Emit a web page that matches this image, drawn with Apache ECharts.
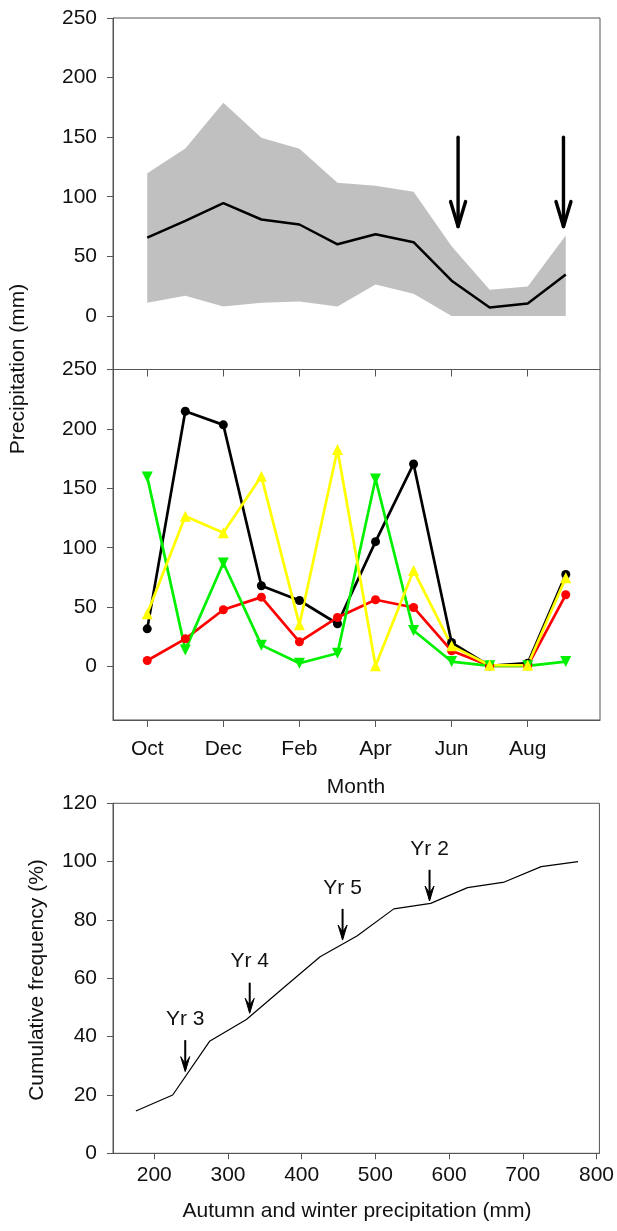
<!DOCTYPE html>
<html>
<head>
<meta charset="utf-8">
<script src="https://cdn.jsdelivr.net/npm/echarts@6/dist/echarts.min.js"></script>
<style>
html,body{margin:0;padding:0;background:#fff;}
#chart{width:617px;height:1231px;}
</style>
</head>
<body>
<div id="chart"></div>
<script>
// ---------- data ----------
const months = ['Oct','Nov','Dec','Jan','Feb','Mar','Apr','May','Jun','Jul','Aug','Sep'];
const monthTickIdx = [0, 2, 4, 6, 8, 10];
const precipTicks = [0, 50, 100, 150, 200, 250];

// top panel: long-term mean with range
const meanPrecip  = [65.7, 79.8, 94.7, 80.9, 76.7, 60.1, 68.5, 61.8, 29.5, 7.0, 10.4, 34.8];
const upperPrecip = [119.7, 140.4, 178.9, 149.4, 140.2, 111.8, 109.3, 104.2, 58.4, 21.9, 24.7, 67.4];
const lowerPrecip = [11.0, 16.9, 7.9, 11.0, 12.1, 7.9, 26.4, 18.5, 0, 0, 0, 0];
const topArrowX    = [8.17, 10.94];
const topArrowFrom = [150, 150];
const topArrowTo   = [75, 75];

// middle panel: individual years
const blackYear  = [31.7, 214.9, 203.4, 68.0, 55.6, 36.0, 105.1, 170.5, 20.2, 0.5, 2.8, 77.5];
const redYear    = [5.1, 23.3, 47.8, 58.4, 20.8, 41.3, 56.2, 49.7, 13.2, 0.6, 0.6, 60.4];
const greenYear  = [159.6, 14.0, 87.1, 18.0, 2.8, 11.2, 157.9, 30.3, 4.2, 0.6, 0.6, 4.2];
const yellowYear = [44.4, 126.4, 112.6, 160.1, 35.1, 182.6, 0.6, 80.9, 17.4, 1.1, 1.1, 74.7];

// bottom panel: cumulative frequency
const awPrecip = [175, 225, 275, 325, 375, 425, 475, 525, 575, 625, 675, 725, 775];
const cumFreq  = [14.5, 20.0, 38.4, 45.9, 56.7, 67.4, 74.5, 83.8, 85.7, 91.1, 93.0, 98.3, 100];
const awTicks  = [200, 300, 400, 500, 600, 700, 800];
const yrLabels = ['Yr 3', 'Yr 4', 'Yr 5', 'Yr 2'];
const yrX      = [242, 329.5, 455.5, 573.5];
const yrTop    = [38.8, 58.5, 83.8, 97.2];
const yrTip    = [28.0, 48.0, 73.1, 86.5];

// ---------- chart ----------
const FONT = "'Liberation Sans', Arial, sans-serif";
const AX = '#555';
const chart = echarts.init(document.getElementById('chart'), null, {renderer: 'canvas'});

function pair(arr) { return arr.map((v, i) => [i, v]); }

const baseY = {
  type: 'value', min: -45, max: 250,
  axisLine: {show: true, onZero: false, lineStyle: {color: AX, width: 1}},
  axisTick: {show: true, length: 6, inside: false, lineStyle: {color: AX}, customValues: precipTicks},
  axisLabel: {show: true, margin: 16, fontSize: 21, color: '#111', fontFamily: FONT, customValues: precipTicks},
  splitLine: {show: false}
};
const baseX = {
  type: 'value', min: -0.9, max: 11.9,
  axisLine: {show: true, onZero: false, lineStyle: {color: AX, width: 1}},
  axisTick: {show: true, length: 7, lineStyle: {color: AX}, customValues: monthTickIdx},
  splitLine: {show: false}
};

const option = {
  backgroundColor: '#fff',
  animation: false,
  textStyle: {fontFamily: FONT},
  grid: [
    {left: 113, right: 17, top: 18, bottom: 861.5, show: true, borderColor: AX, borderWidth: 1},
    {left: 113, right: 17, top: 369.5, bottom: 511, show: true, borderColor: AX, borderWidth: 1},
    {left: 113, right: 15.5, top: 803.3, bottom: 77.7, show: true, borderColor: AX, borderWidth: 1}
  ],
  xAxis: [
    Object.assign({}, baseX, {gridIndex: 0, axisLabel: {show: false}}),
    Object.assign({}, baseX, {gridIndex: 1,
      axisLabel: {show: true, margin: 19, fontSize: 21, color: '#111', fontFamily: FONT,
        customValues: monthTickIdx, formatter: v => months[Math.round(v)]}}),
    {gridIndex: 2, type: 'value', min: 144, max: 804,
      axisLine: {show: true, onZero: false, lineStyle: {color: AX, width: 1}},
      axisTick: {show: true, length: 6, lineStyle: {color: AX}, customValues: awTicks},
      axisLabel: {show: true, margin: 11, fontSize: 21, color: '#111', fontFamily: FONT, customValues: awTicks},
      splitLine: {show: false}}
  ],
  yAxis: [
    Object.assign({}, baseY, {gridIndex: 0}),
    Object.assign({}, baseY, {gridIndex: 1}),
    {gridIndex: 2, type: 'value', min: 0, max: 120, interval: 20,
      axisLine: {show: true, onZero: false, lineStyle: {color: AX, width: 1}},
      axisTick: {show: true, length: 6, lineStyle: {color: AX}},
      axisLabel: {show: true, margin: 16, fontSize: 21, color: '#111', fontFamily: FONT},
      splitLine: {show: false}}
  ],
  graphic: [
    {type: 'text', x: 18, y: 369, rotation: Math.PI / 2,
      style: {text: 'Precipitation (mm)', fontSize: 21, fontFamily: FONT, fill: '#111', textAlign: 'center', textVerticalAlign: 'middle'}},
    {type: 'text', x: 356, y: 787,
      style: {text: 'Month', fontSize: 21, fontFamily: FONT, fill: '#111', textAlign: 'center', textVerticalAlign: 'middle'}},
    {type: 'text', x: 37, y: 980, rotation: Math.PI / 2,
      style: {text: 'Cumulative frequency (%)', fontSize: 21, fontFamily: FONT, fill: '#111', textAlign: 'center', textVerticalAlign: 'middle'}},
    {type: 'text', x: 357, y: 1211,
      style: {text: 'Autumn and winter precipitation (mm)', fontSize: 21, fontFamily: FONT, fill: '#111', textAlign: 'center', textVerticalAlign: 'middle'}}
  ],
  series: [
    // range band
    {
      type: 'custom', xAxisIndex: 0, yAxisIndex: 0, z: 1,
      data: months.map((m, i) => [i, lowerPrecip[i], upperPrecip[i]]),
      encode: {x: 0, y: [1, 2]},
      renderItem: function (params, api) {
        if (params.dataIndex !== 0) return null;
        const pts = [];
        for (let i = 0; i < months.length; i++) pts.push(api.coord([i, upperPrecip[i]]));
        for (let i = months.length - 1; i >= 0; i--) pts.push(api.coord([i, lowerPrecip[i]]));
        return {type: 'polygon', shape: {points: pts}, style: {fill: '#c0c0c0', stroke: null}};
      }
    },
    {
      type: 'line', xAxisIndex: 0, yAxisIndex: 0, z: 3,
      data: pair(meanPrecip), symbol: 'none',
      lineStyle: {color: '#000', width: 2.5}
    },
    // arrows in top panel
    {
      type: 'custom', xAxisIndex: 0, yAxisIndex: 0, z: 4,
      data: topArrowX.map((x, i) => [x, topArrowFrom[i], topArrowTo[i]]),
      encode: {x: 0, y: [1, 2]},
      renderItem: function (params, api) {
        const a = api.coord([api.value(0), api.value(1)]);
        const b = api.coord([api.value(0), api.value(2)]);
        const st = {stroke: '#000', lineWidth: 3.4, lineCap: 'round', lineJoin: 'round', fill: null};
        return {type: 'group', children: [
          {type: 'line', shape: {x1: a[0], y1: a[1], x2: b[0], y2: b[1]}, style: st},
          {type: 'polyline', shape: {points: [[b[0] - 7.5, b[1] - 25], [b[0], b[1]], [b[0] + 7.5, b[1] - 25]]}, style: st}
        ]};
      }
    },
    // middle panel
    {
      type: 'line', xAxisIndex: 1, yAxisIndex: 1, z: 3,
      data: pair(blackYear), symbol: 'circle', symbolSize: 9,
      lineStyle: {color: '#000', width: 2.7}, itemStyle: {color: '#000'}
    },
    {
      type: 'line', xAxisIndex: 1, yAxisIndex: 1, z: 3,
      data: pair(redYear), symbol: 'circle', symbolSize: 9,
      lineStyle: {color: '#ff0000', width: 2.7}, itemStyle: {color: '#ff0000'}
    },
    {
      type: 'line', xAxisIndex: 1, yAxisIndex: 1, z: 3,
      data: pair(greenYear), symbol: 'triangle', symbolSize: 11, symbolRotate: 180,
      lineStyle: {color: '#00f000', width: 2.7}, itemStyle: {color: '#00f000'}
    },
    {
      type: 'line', xAxisIndex: 1, yAxisIndex: 1, z: 3,
      data: pair(yellowYear), symbol: 'triangle', symbolSize: 11,
      lineStyle: {color: '#ffff00', width: 2.7}, itemStyle: {color: '#ffff00'}
    },
    // bottom panel
    {
      type: 'line', xAxisIndex: 2, yAxisIndex: 2, z: 3,
      data: awPrecip.map((x, i) => [x, cumFreq[i]]), symbol: 'none',
      lineStyle: {color: '#000', width: 1.2}
    },
    {
      type: 'custom', xAxisIndex: 2, yAxisIndex: 2, z: 4,
      data: yrX.map((x, i) => [x, yrTop[i], yrTip[i]]),
      encode: {x: 0, y: [1, 2]},
      renderItem: function (params, api) {
        const a = api.coord([api.value(0), api.value(1)]);
        const b = api.coord([api.value(0), api.value(2)]);
        const st = {stroke: '#000', lineWidth: 2, fill: null};
        return {type: 'group', children: [
          {type: 'line', shape: {x1: a[0], y1: a[1], x2: b[0], y2: b[1] - 2}, style: st},
          {type: 'polygon', shape: {points: [[b[0] - 4.5, b[1] - 15], [b[0], b[1]], [b[0] + 4.5, b[1] - 15], [b[0], b[1] - 8]]},
            style: {fill: '#000', stroke: '#000', lineWidth: 1}},
          {type: 'text', x: a[0], y: a[1] - 21,
            style: {text: yrLabels[params.dataIndex], fontSize: 21, fontFamily: FONT, fill: '#111',
              textAlign: 'center', textVerticalAlign: 'middle'}}
        ]};
      }
    }
  ]
};
chart.setOption(option);
</script>
</body>
</html>
